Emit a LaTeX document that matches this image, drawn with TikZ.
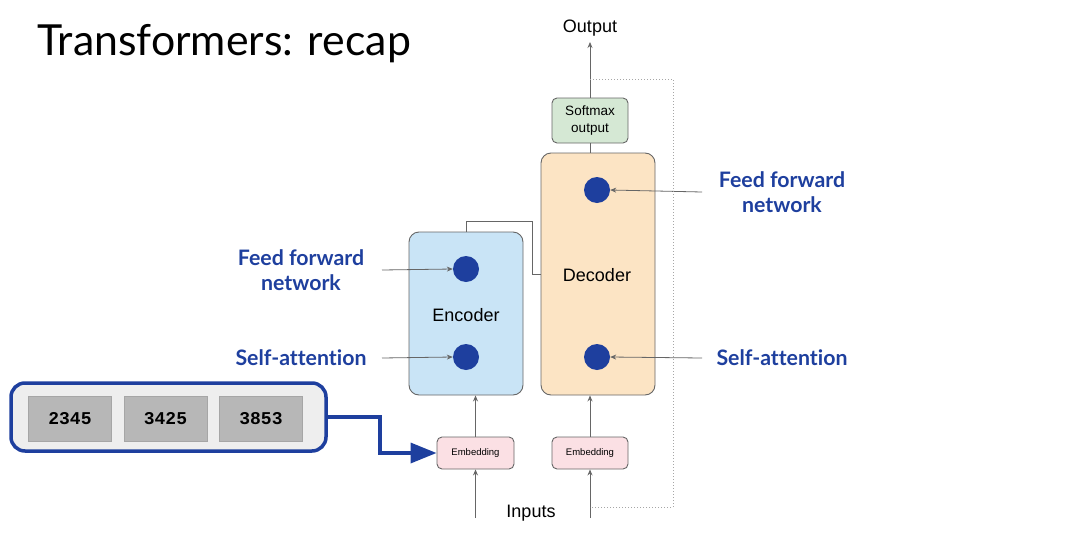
\documentclass[tikz,border=0pt]{standalone}
\usepackage{fontspec}
\setmainfont{Liberation Sans}
\newfontfamily\latofont[Ligatures=NoCommon]{Lato}
\newfontfamily\monofont{Liberation Mono}
\usetikzlibrary{arrows.meta}
\definecolor{encfill}{HTML}{C9E4F6}
\definecolor{decfill}{HTML}{FCE4C4}
\definecolor{smfill}{HTML}{D5E8D4}
\definecolor{embfill}{HTML}{FBE0E4}
\definecolor{tokfill}{HTML}{EEEEEE}
\definecolor{cellfill}{HTML}{B7B7B7}
\definecolor{navy}{HTML}{1E3F9E}
\definecolor{edge}{HTML}{666666}
\tikzset{
  blk/.style={draw=edge, line width=0.9pt, rounded corners=10pt, inner sep=0pt, align=center},
  smallblk/.style={draw=edge, line width=0.9pt, rounded corners=5pt, inner sep=0pt, align=center},
  dot/.style={circle, fill=navy, draw=none, minimum size=26pt, inner sep=0pt},
  conn/.style={draw=edge, line width=0.8pt},
  arr/.style={conn, -{Stealth[length=6pt, width=5pt]}},
  lab/.style={text=navy, font=\latofont\bfseries\fontsize{21.3}{25}\selectfont, align=center},
  plain/.style={font=\fontsize{18}{21}\selectfont},
  cell/.style={draw=gray!70, fill=cellfill, minimum width=83pt, minimum height=45pt, inner sep=0pt, font=\monofont\bfseries\fontsize{18}{20}\selectfont},
}
\begin{document}
\begin{tikzpicture}[x=1pt, y=-1pt]
\useasboundingbox (0,0) rectangle (1072,536);
% title
\node[anchor=west, font=\latofont\fontsize{42.8}{48}\selectfont, inner sep=0pt] (title) at (37,44) {Transformers: recap};
% blocks
\node[blk, fill=encfill, minimum width=114pt, minimum height=163pt] (enc) at (466,313.5) {};
\node[blk, fill=decfill, minimum width=114pt, minimum height=242pt] (dec) at (598,274) {};
\node[plain] (enclab) at (466,315) {Encoder};
\node[plain] (declab) at (597,275) {Decoder};
\node[dot] (ed1) at (466,269) {};
\node[dot] (ed2) at (466,357) {};
\node[dot] (dd1) at (597,190) {};
\node[dot] (dd2) at (597,357) {};
\node[smallblk, fill=smfill, minimum width=76pt, minimum height=45pt, font=\fontsize{13.5}{17}\selectfont] (sm) at (590,120.5) {Softmax\\output};
\node[smallblk, fill=embfill, minimum width=77pt, minimum height=32pt, font=\fontsize{9.5}{11}\selectfont] (emb1) at (475.5,453) {Embedding};
\node[smallblk, fill=embfill, minimum width=76pt, minimum height=32pt, font=\fontsize{9.5}{11}\selectfont] (emb2) at (590,453) {Embedding};
\node[plain] (out) at (590,28) {Output};
\node[plain] (inp) at (531,513) {Inputs};
% labels
\node[lab] (lff) at (301,270) {Feed forward\\network};
\node[lab] (lsa) at (301,358) {Self-attention};
\node[lab] (rff) at (782,192) {Feed forward\\network};
\node[lab] (rsa) at (782,358) {Self-attention};
\coordinate (lffs) at (382,270);
\coordinate (lsas) at (382,358);
\coordinate (rffs) at (702,192);
\coordinate (rsas) at (702,358);
\draw[arr] (lffs) -- (ed1.west);
\draw[arr] (lsas) -- (ed2.west);
\draw[arr] (rffs) -- (dd1.east);
\draw[arr] (rsas) -- (dd2.east);
% connectors
\coordinate (in1) at (475.5,518);
\coordinate (in2) at (590,518);
\coordinate (outtip) at (590,42);
\draw[arr] (in1) -- (emb1.south);
\draw[arr] (in2) -- (emb2.south);
\draw[arr] (emb1.north) -- (emb1.north |- enc.south);
\draw[arr] (emb2.north) -- (emb2.north |- dec.south);
\draw[conn] (sm.south) -- (sm.south |- dec.north);
\draw[arr] (sm.north) -- (outtip);
\draw[conn] (enc.north) |- (532,221) |- (dec.west);
% dotted feedback
\coordinate (fbtop) at (590,79);
\coordinate (fbbot) at (590,507);
\draw[draw=gray!70, line width=0.9pt, dash pattern=on 1pt off 2pt] (fbtop) -| (673,507) -- (fbbot);
% tokens
\node[draw=navy, line width=3.5pt, fill=tokfill, rounded corners=14pt, minimum width=315pt, minimum height=68pt, inner sep=0pt] (tok) at (168.5,417) {};
\node[cell] (c1) at (70,418.5) {2345};
\node[cell] (c2) at (165.5,418.5) {3425};
\node[cell] (c3) at (261,418.5) {3853};
\draw[draw=navy, line width=3.5pt, -{Triangle[length=26pt, width=20pt]}] (tok.east) -- (380,417) |- (emb1.west);
\end{tikzpicture}
\end{document}
